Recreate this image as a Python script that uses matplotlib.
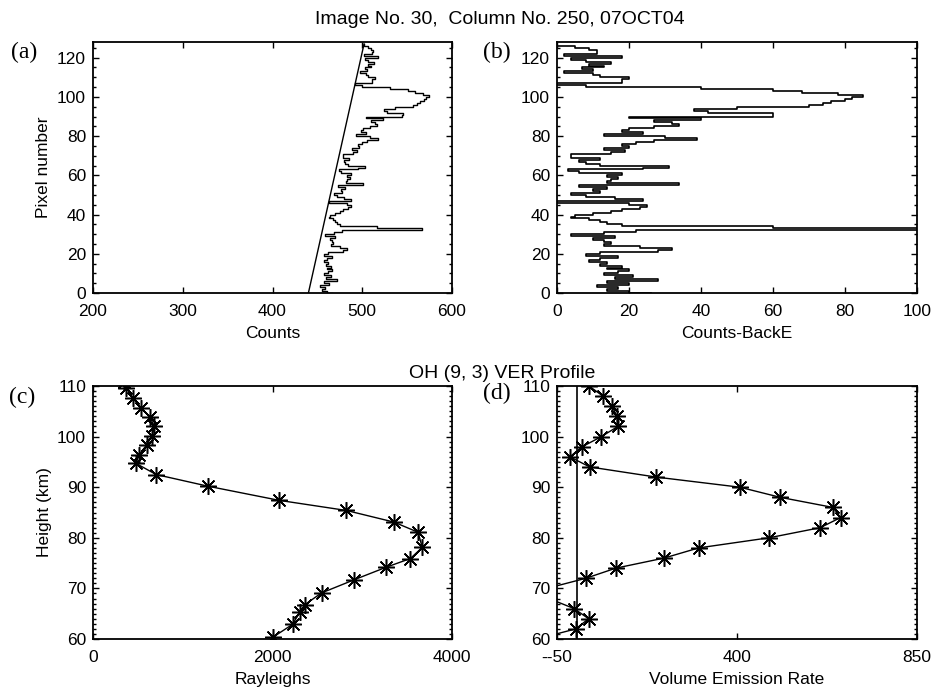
import numpy as np
import matplotlib
matplotlib.use('Agg')
import matplotlib.pyplot as plt
from matplotlib.ticker import MultipleLocator

plt.rcParams['font.family'] = ['Liberation Sans', 'DejaVu Sans']

# Panel (b): counts minus background, one value per detector pixel (0..127)
counts_minus_back = [
    26, 20, 14, 17, 11, 20, 14, 28, 16, 21, 13, 17, 20, 14, 18, 12,
    14, 9, 12, 17, 8, 12, 28, 32, 23, 13, 15, 13, 10, 16, 4, 13,
    22, 110, 60, 18, 14, 12, 9, 4, 5, 10, 15, 18, 23, 25, 20, 0,
    24, 16, 8, 4, 12, 10, 14, 6, 34, 14, 15, 17, 14, 18, 6, 3,
    24, 31, 12, 8, 6, 12, 4, 4, 15, 19, 13, 20, 18, 22, 27, 39,
    30, 13, 24, 18, 20, 27, 34, 32, 27, 40, 20, 60, 60, 42, 38, 50,
    70, 74, 76, 80, 82, 85, 78, 68, 60, 40, 8, 0, 18, 18, 20, 12,
    10, 2, 10, 7, 13, 9, 15, 8, 4, 18, 2, 11, 11, 9, 5, 0,
]
pixels = np.arange(len(counts_minus_back))

# Panel (a): straight background line (end points)
back_pixels = [0, 127]
back_counts = [440, 502]
background = np.interp(pixels, back_pixels, back_counts)
counts = background + np.array(counts_minus_back)

# Panel (c): brightness profile
ray_height = [110.8, 109.6, 107.6, 105.7, 103.8, 102.0, 100.2, 98.4, 96.3, 94.7,
              92.5, 90.2, 87.4, 85.4, 83.1, 81.1, 78.1, 75.9, 74.2, 71.7,
              69.1, 66.8, 65.3, 62.9, 60.3]
rayleighs = [340, 371, 445, 534, 638, 682, 660, 600, 508, 480,
             704, 1280, 2075, 2824, 3354, 3621, 3669, 3536, 3269, 2909,
             2546, 2361, 2305, 2224, 2000]

# Panel (d): volume emission rate profile
ver_height = [110, 108, 106, 104, 102, 100, 98, 96, 94, 92, 90, 88, 86,
              84, 82, 80, 78, 76, 74, 72, 70, 68, 66, 64, 62, 60]
ver = [30, 65, 88, 100, 102, 61, 13, -18, 32, 198, 407, 508, 640,
       659, 608, 480, 304, 218, 97, 22, -75, -70, -7, 29, -3, -100]

fig = plt.figure(figsize=(9.33, 6.89), dpi=100)

W, H = 933.0, 689.0
def box(l, t, r, b):
    return [l / W, 1 - b / H, (r - l) / W, (b - t) / H]

ax_a = fig.add_axes(box(93, 42, 452, 293))
ax_b = fig.add_axes(box(557, 42, 917, 293))
ax_c = fig.add_axes(box(93, 386, 452, 639))
ax_d = fig.add_axes(box(557, 386, 917, 639))

star = (8, 2, 0)

ax_a.step(counts, pixels, where='post', color='black', lw=1.0)
ax_a.plot(back_counts, back_pixels, color='black', lw=1.0)
ax_a.set_xlim(200, 600)
ax_a.set_ylim(0, 128)
ax_a.set_xticks([200, 300, 400, 500, 600])
ax_a.set_yticks(range(0, 121, 20))
ax_a.yaxis.set_minor_locator(MultipleLocator(5))
ax_a.set_xlabel('Counts')
ax_a.set_ylabel('Pixel number')

ax_b.step(counts_minus_back, pixels, where='post', color='black', lw=1.2)
ax_b.set_xlim(0, 100)
ax_b.set_ylim(0, 128)
ax_b.set_xticks(range(0, 101, 20))
ax_b.set_yticks(range(0, 121, 20))
ax_b.yaxis.set_minor_locator(MultipleLocator(5))
ax_b.set_xlabel('Counts-BackE')

ax_c.plot(rayleighs, ray_height, color='black', lw=1.0,
          marker=star, ms=12, mew=1.1)
ax_c.set_xlim(0, 4000)
ax_c.set_ylim(60, 110)
ax_c.set_xticks([0, 2000, 4000])
ax_c.set_yticks(range(60, 111, 10))
ax_c.yaxis.set_minor_locator(MultipleLocator(1))
ax_c.set_xlabel('Rayleighs')
ax_c.set_ylabel('Height (km)')

ax_d.plot(ver, ver_height, color='black', lw=1.0,
          marker=star, ms=12, mew=1.1)
ax_d.axvline(0, color='black', lw=1.2)
ax_d.set_xlim(-50, 850)
ax_d.set_ylim(60, 110)
ax_d.set_xticks([-50, 400, 850])
ax_d.set_xticklabels(['--50', '400', '850'])
ax_d.set_yticks(range(60, 111, 10))
ax_d.yaxis.set_minor_locator(MultipleLocator(1))
ax_d.set_xlabel('Volume Emission Rate')

for ax in [ax_a, ax_b, ax_c, ax_d]:
    ax.tick_params(which='both', direction='in', top=True, right=True,
                   labelsize=12.5, width=1.0)
    ax.tick_params(axis='x', which='major', pad=8, length=4)
    ax.tick_params(axis='y', which='major', pad=5, length=4)
    ax.tick_params(which='minor', length=2)
    ax.xaxis.label.set_size(12.5)
    ax.yaxis.label.set_size(12.5)
    ax.xaxis.labelpad = 5
    ax.yaxis.labelpad = 4
    for s in ax.spines.values():
        s.set_linewidth(1.3)

fig.text(500 / W, 1 - 20 / H, 'Image No. 30,  Column No. 250, 07OCT04',
         ha='center', va='center', fontsize=14)
fig.text(502 / W, 1 - 373 / H, 'OH (9, 3) VER Profile',
         ha='center', va='center', fontsize=14)

for label, x, y in [('(a)', 24, 52), ('(b)', 497, 52),
                    ('(c)', 22, 397), ('(d)', 497, 393)]:
    fig.text(x / W, 1 - y / H, label, ha='center', va='center',
             fontsize=17, family='Liberation Serif')

fig.savefig('out.png', dpi=100)
